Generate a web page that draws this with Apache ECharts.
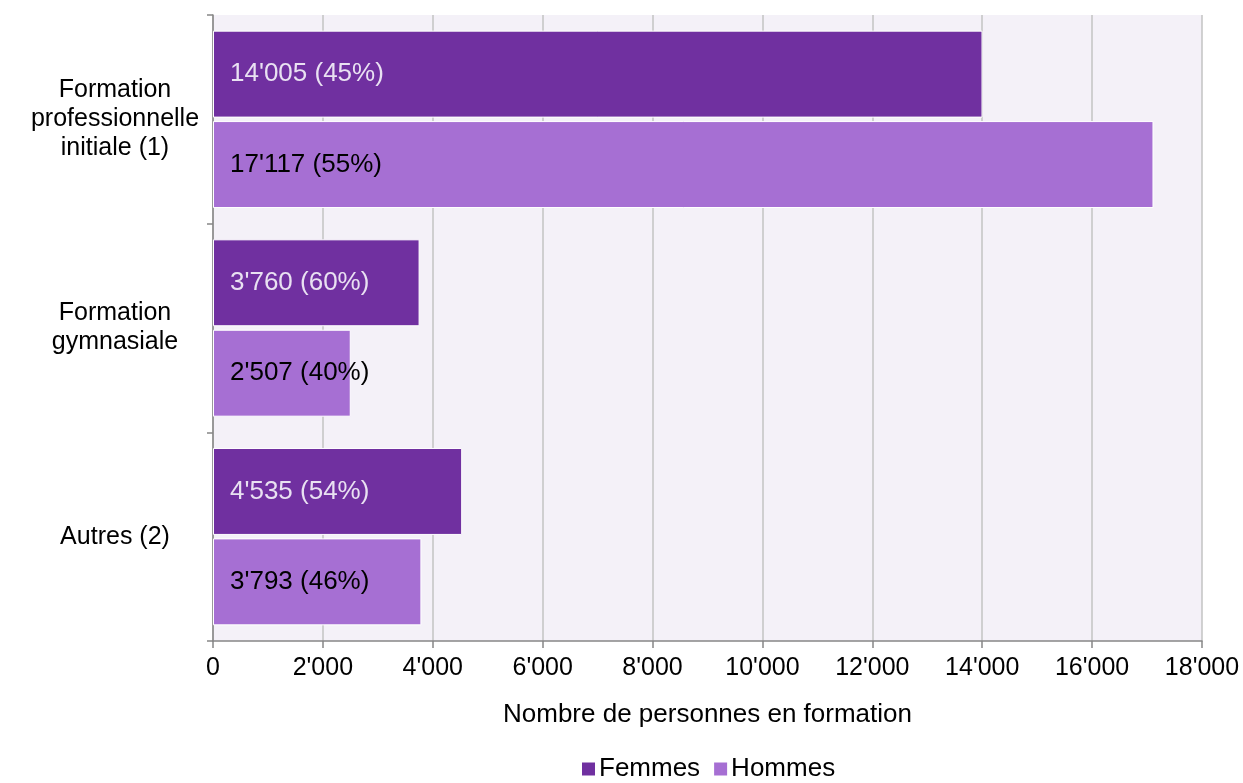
<!DOCTYPE html>
<html>
<head>
<meta charset="utf-8">
<script src="https://cdn.jsdelivr.net/npm/echarts@6/dist/echarts.min.js"></script>
<style>
  html, body { margin: 0; padding: 0; background: #fff; }
  #chart { width: 1243px; height: 783px; }
</style>
</head>
<body>
<div id="chart"></div>
<script>
const categories = ["Formation\nprofessionnelle\ninitiale (1)", "Formation\ngymnasiale", "Autres (2)"];
const femmes = [14005, 3760, 4535];
const hommes = [17117, 2507, 3793];
const femmesPct = [45, 60, 54];
const hommesPct = [55, 40, 46];

const fmt = (v) => String(v).replace(/\B(?=(\d{3})+(?!\d))/g, "'");
const font = "Liberation Sans, Arial, sans-serif";
const fs = 25;

const chart = echarts.init(document.getElementById("chart"));

const option = {
  animation: false,
  textStyle: { fontFamily: font },
  grid: {
    left: 213,
    right: 41,
    top: 15,
    bottom: 142,
    show: true,
    backgroundColor: "#f4f1f8",
    borderWidth: 0,
  },
  legend: {
    top: 751,
    left: 575,
    itemWidth: 15,
    itemHeight: 15,
    itemGap: 12,
    icon: "rect",
    textStyle: { fontSize: 26, color: "#000", fontFamily: font, padding: [0, 0, 0, -2] },
    data: ["Femmes", "Hommes"],
  },
  xAxis: {
    type: "value",
    min: 0,
    max: 18000,
    interval: 2000,
    name: "Nombre de personnes en formation",
    nameLocation: "middle",
    nameGap: 61,
    nameTextStyle: { fontSize: 26, color: "#000", fontFamily: font },
    axisLine: { show: true, lineStyle: { color: "#868686", width: 1.5 } },
    axisTick: { show: true, length: 7, lineStyle: { color: "#868686", width: 1.5 } },
    axisLabel: { fontSize: fs, color: "#000", margin: 15, formatter: (v) => fmt(v) },
    splitLine: { show: true, lineStyle: { color: "#c3c3c3", width: 1.5 } },
  },
  yAxis: {
    type: "category",
    inverse: true,
    data: categories,
    axisLine: { show: true, lineStyle: { color: "#868686", width: 1.5 } },
    axisTick: { show: true, length: 6, lineStyle: { color: "#868686", width: 1.5 } },
    axisLabel: { fontSize: fs, color: "#000", margin: 98, lineHeight: 29, align: "center", padding: [4, 0, 0, 0] },
  },
  series: [
    {
      name: "Femmes",
      type: "bar",
      data: femmes,
      barCategoryGap: "15%",
      barGap: "4%",
      itemStyle: { color: "#7030a0", borderColor: "#fff", borderWidth: 1 },
      label: {
        show: true,
        position: "insideLeft",
        distance: 17,
        fontSize: 26,
        color: "#e9e1f2",
        fontFamily: font,
        padding: [4, 0, 0, 0],
        formatter: (p) => fmt(p.value) + " (" + femmesPct[p.dataIndex] + "%)",
      },
    },
    {
      name: "Hommes",
      type: "bar",
      data: hommes,
      itemStyle: { color: "#a66fd3", borderColor: "#fff", borderWidth: 1 },
      label: {
        show: true,
        position: "insideLeft",
        distance: 17,
        fontSize: 26,
        color: "#000",
        fontFamily: font,
        padding: [4, 0, 0, 0],
        formatter: (p) => fmt(p.value) + " (" + hommesPct[p.dataIndex] + "%)",
      },
    },
  ],
};

chart.setOption(option);
window.addEventListener("resize", () => chart.resize());
</script>
</body>
</html>
